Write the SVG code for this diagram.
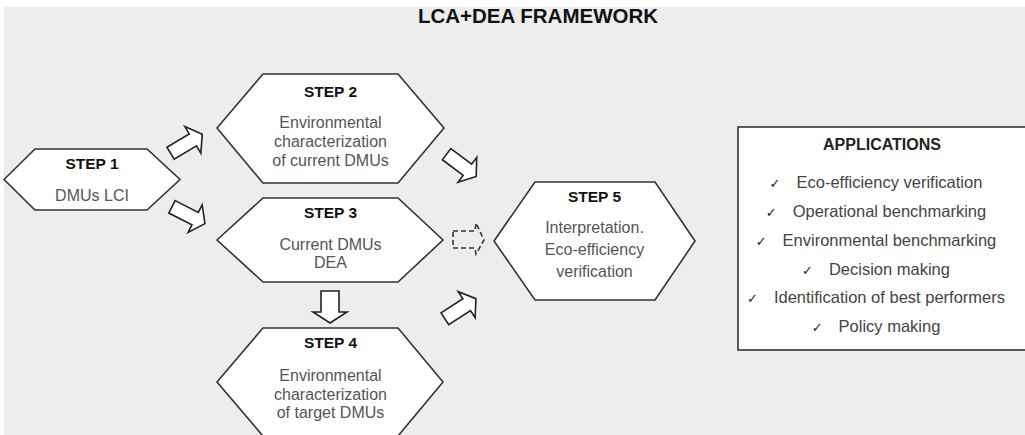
<svg xmlns="http://www.w3.org/2000/svg" width="1025" height="435" viewBox="0 0 1025 435">
  <style>
    .bg { fill: #ededed; }
    .hex { fill: #ffffff; stroke: #333333; stroke-width: 1.6; stroke-linejoin: miter; }
    .arrow { fill: #ffffff; stroke: #222222; stroke-width: 1.6; stroke-linejoin: miter; }
    .dash { fill: none; stroke: #333333; stroke-width: 1.6; stroke-dasharray: 5 3; }
    .title { font-family: "Liberation Sans", Arial, sans-serif; font-weight: bold; font-size: 20.5px; fill: #111111; }
    .step { font-family: "Liberation Sans", Arial, sans-serif; font-weight: bold; font-size: 15.5px; fill: #111111; text-anchor: middle; }
    .desc { font-family: "Liberation Sans", Arial, sans-serif; font-size: 16px; fill: #555555; text-anchor: middle; }
    .box { fill: #ffffff; stroke: #333333; stroke-width: 1.6; }
    .apphead { font-family: "Liberation Sans", Arial, sans-serif; font-weight: bold; font-size: 16px; fill: #222222; text-anchor: middle; }
    .app { font-family: "Liberation Sans", Arial, sans-serif; font-size: 16.5px; fill: #444444; text-anchor: middle; }
    .tick { font-family: "DejaVu Sans", sans-serif; font-size: 13px; fill: #222222; }
  </style>
  <defs>
    <!-- block arrow pointing along +x, centred on the origin -->
    <path id="blockArrow" d="M -18 -7 L 8 -7 L 8 -15.5 L 19 0 L 8 15.5 L 8 7 L -18 7 Z"/>
  </defs>

  <!-- canvas -->
  <rect x="0" y="0" width="1025" height="435" fill="#ffffff"/>
  <rect class="bg" x="4" y="7" width="1021" height="428"/>

  <text class="title" x="538" y="23" text-anchor="middle">LCA+DEA FRAMEWORK</text>

  <!-- connectors -->
  <g id="connectors">
    <use href="#blockArrow" class="arrow" transform="translate(186,144) rotate(-31)"/>
    <use href="#blockArrow" class="arrow" transform="translate(188,215) rotate(27)"/>
    <use href="#blockArrow" class="arrow" transform="translate(461,165) rotate(37)"/>
    <use href="#blockArrow" class="arrow" transform="translate(460,309) rotate(-33)"/>
    <!-- step 3 to step 4 -->
    <path class="arrow" d="M 321 291 L 339 291 L 339 312 L 347 312 L 330 323 L 313 312 L 321 312 Z"/>
    <!-- optional link from step 3 to step 5 -->
    <path class="dash" d="M 453 231 L 475 231 L 476 223 L 484 240 L 476 254 L 475 248 L 453 248 Z"/>
  </g>

  <g id="step1">
    <polygon class="hex" points="4,179.5 35,149 147,149 180,179.5 147,210 35,210"/>
    <text class="step" x="92" y="169">STEP 1</text>
    <text class="desc" x="92" y="201">DMUs LCI</text>
  </g>

  <g id="step2">
    <polygon class="hex" points="217,128 263,74 398,74 444,128 398,183 263,183"/>
    <text class="step" x="330.5" y="97">STEP 2</text>
    <text class="desc" x="330.5" y="128">Environmental</text>
    <text class="desc" x="330.5" y="147">characterization</text>
    <text class="desc" x="330.5" y="165.5">of current DMUs</text>
  </g>

  <g id="step3">
    <polygon class="hex" points="217,240 263,198 398,198 443,240 398,282 263,282"/>
    <text class="step" x="330.5" y="218">STEP 3</text>
    <text class="desc" x="330.5" y="250">Current DMUs</text>
    <text class="desc" x="330.5" y="268">DEA</text>
  </g>

  <g id="step4">
    <polygon class="hex" points="217,382 263,328 398,328 443,382 398,436 263,436"/>
    <text class="step" x="330.5" y="348">STEP 4</text>
    <text class="desc" x="330.5" y="381">Environmental</text>
    <text class="desc" x="330.5" y="400">characterization</text>
    <text class="desc" x="330.5" y="418">of target DMUs</text>
  </g>

  <g id="step5">
    <polygon class="hex" points="494,241 535,182 655,182 695,241 655,300 535,300"/>
    <text class="step" x="594.5" y="202">STEP 5</text>
    <text class="desc" x="594.5" y="233">Interpretation.</text>
    <text class="desc" x="594.5" y="255">Eco-efficiency</text>
    <text class="desc" x="594.5" y="277">verification</text>
  </g>

  <g id="applications">
    <rect class="box" x="738" y="127" width="300" height="223"/>
    <text class="apphead" x="882" y="150">APPLICATIONS</text>
    <text class="app" x="876" y="188"><tspan class="tick">✓</tspan><tspan dx="16">Eco-efficiency verification</tspan></text>
    <text class="app" x="876" y="217"><tspan class="tick">✓</tspan><tspan dx="16">Operational benchmarking</tspan></text>
    <text class="app" x="876" y="246"><tspan class="tick">✓</tspan><tspan dx="16">Environmental benchmarking</tspan></text>
    <text class="app" x="876" y="275"><tspan class="tick">✓</tspan><tspan dx="16">Decision making</tspan></text>
    <text class="app" x="876" y="303"><tspan class="tick">✓</tspan><tspan dx="16">Identification of best performers</tspan></text>
    <text class="app" x="876" y="332"><tspan class="tick">✓</tspan><tspan dx="16">Policy making</tspan></text>
  </g>
</svg>
